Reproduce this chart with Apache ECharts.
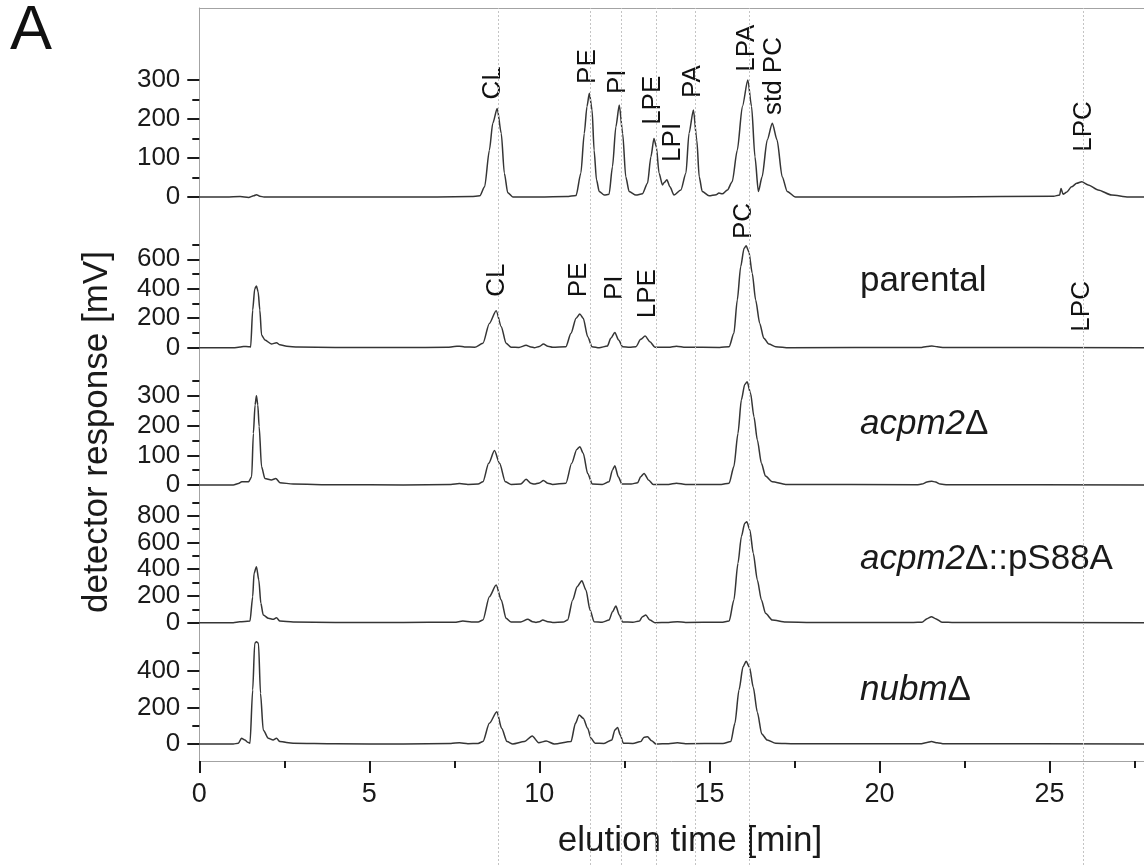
<!DOCTYPE html>
<html>
<head>
<meta charset="utf-8">
<script src="https://cdn.jsdelivr.net/npm/echarts@6/dist/echarts.min.js"></script>
<style>
  html, body { margin: 0; padding: 0; background: #fff; }
  #chart { width: 1144px; height: 865px; }
</style>
</head>
<body>
<div id="chart"></div>
<script>
// Chromatogram traces: [elution time (min), detector response (mV)]
const stdTrace = [
  [0,0],[0.8,0],[1.2,1],[1.45,-1],[1.6,3],[1.68,6],[1.78,2],[1.9,0],[3,0],[5,0],[7,0],[8.0,1],[8.25,3],
  [8.39,26],[8.53,120],[8.63,189],[8.76,227],[8.88,163],[8.97,61],[9.07,11],[9.22,0],[10,0],[10.8,1],
  [11.08,4],[11.22,61],[11.32,163],[11.40,232],[11.47,266],[11.55,223],[11.61,120],[11.68,44],[11.76,14],
  [11.91,5],[12.05,7],[12.15,78],[12.25,180],[12.35,236],[12.45,163],[12.54,52],[12.64,14],[12.84,5],
  [13.03,8],[13.18,35],[13.28,103],[13.37,150],[13.44,129],[13.52,61],[13.62,31],[13.67,37],[13.75,44],
  [13.84,26],[13.96,5],[14.16,18],[14.31,61],[14.40,163],[14.53,223],[14.63,146],[14.70,52],[14.79,14],
  [14.99,3],[15.2,6],[15.28,10],[15.38,8],[15.53,18],[15.67,39],[15.82,120],[15.97,232],[16.13,300],
  [16.24,232],[16.34,103],[16.44,14],[16.55,52],[16.70,146],[16.85,189],[16.99,146],[17.14,52],[17.29,14],
  [17.53,0],[20,0],[22,0],[25.12,2],[25.30,5],[25.34,22],[25.40,7],[25.50,12],[25.65,26],[25.80,35],
  [25.95,39],[26.14,31],[26.43,18],[26.83,5],[27.32,0],[27.8,0]
];
const parentalTrace = [
  [0,0],[1.0,0],[1.2,4],[1.3,8],[1.45,7],[1.51,5],[1.57,256],[1.63,400],[1.68,419],[1.73,380],[1.78,256],
  [1.83,86],[1.93,52],[2.12,25],[2.27,34],[2.37,20],[2.57,10],[2.9,4],[4,2],[6,1],[7.3,3],[7.5,8],[7.65,10],
  [7.8,5],[8.1,3],[8.34,30],[8.53,165],[8.73,251],[8.88,143],[9.02,30],[9.17,3],[9.4,2],[9.61,16],[9.75,5],
  [9.85,0],[10.0,8],[10.12,25],[10.25,10],[10.39,3],[10.78,7],[10.93,98],[11.08,200],[11.19,229],[11.29,200],
  [11.42,75],[11.55,7],[11.76,0],[12.0,11],[12.10,64],[12.22,104],[12.33,52],[12.45,7],[12.65,3],[12.84,7],
  [12.98,57],[13.11,79],[13.25,41],[13.40,3],[13.8,3],[14.03,10],[14.3,3],[15.3,2],[15.58,7],[15.72,98],
  [15.82,324],[15.92,550],[16.02,675],[16.08,692],[16.16,652],[16.26,505],[16.36,324],[16.48,165],[16.60,64],
  [16.75,25],[16.95,7],[17.34,0],[21.2,1],[21.4,8],[21.54,12],[21.7,6],[21.9,1],[27.8,0]
];
const acpm2Trace = [
  [0,0],[1.0,0],[1.15,5],[1.25,11],[1.45,11],[1.54,28],[1.59,174],[1.64,270],[1.68,301],[1.72,270],[1.76,197],
  [1.83,62],[1.93,22],[2.12,17],[2.25,22],[2.37,8],[2.76,3],[4,1],[6,0],[7.4,2],[7.65,5],[7.9,2],[8.2,3],
  [8.34,11],[8.51,73],[8.68,116],[8.83,73],[9.0,11],[9.17,2],[9.45,3],[9.61,19],[9.75,6],[9.85,3],[10.0,7],
  [10.12,15],[10.25,6],[10.39,2],[10.78,6],[10.95,73],[11.10,120],[11.19,129],[11.29,107],[11.42,39],[11.56,3],
  [11.85,2],[12.05,11],[12.15,51],[12.22,65],[12.32,28],[12.43,3],[12.7,3],[12.89,8],[12.98,28],[13.08,39],
  [13.21,17],[13.35,2],[13.8,2],[14.03,6],[14.3,2],[15.35,2],[15.58,6],[15.72,62],[15.84,174],[15.94,287],
  [16.04,339],[16.11,348],[16.21,309],[16.31,230],[16.41,152],[16.53,73],[16.65,30],[16.85,11],[17.24,2],
  [21.1,1],[21.25,3],[21.4,10],[21.54,13],[21.65,10],[21.79,3],[22.0,1],[27.8,0]
];
const pS88ATrace = [
  [0,0],[1.0,0],[1.19,7],[1.49,12],[1.57,194],[1.61,369],[1.68,419],[1.75,319],[1.81,145],[1.88,58],[2.03,33],
  [2.17,25],[2.27,37],[2.37,12],[2.76,5],[4,2],[6,1],[7.5,4],[7.75,12],[8.0,5],[8.2,6],[8.34,20],[8.53,194],
  [8.73,282],[8.88,170],[9.02,33],[9.17,5],[9.45,5],[9.66,25],[9.8,8],[9.90,2],[10.0,8],[10.10,20],[10.25,8],
  [10.39,2],[10.7,5],[10.83,20],[10.98,170],[11.11,269],[11.25,314],[11.37,244],[11.49,95],[11.61,7],[11.85,4],
  [12.05,20],[12.15,82],[12.25,125],[12.35,57],[12.45,5],[12.75,4],[12.94,12],[13.03,45],[13.13,57],[13.25,20],
  [13.40,0],[13.8,2],[14.06,7],[14.3,2],[15.35,3],[15.58,12],[15.72,170],[15.84,444],[15.94,643],[16.04,743],
  [16.10,755],[16.19,693],[16.29,519],[16.41,319],[16.53,170],[16.65,70],[16.85,20],[17.24,5],[18,2],[21.0,2],
  [21.25,4],[21.4,30],[21.53,45],[21.65,30],[21.84,4],[22.2,1],[27.8,0]
];
const nubmTrace = [
  [0,0],[1.0,0],[1.15,4],[1.24,31],[1.34,22],[1.42,10],[1.49,4],[1.57,296],[1.63,552],[1.68,560],[1.74,552],
  [1.80,278],[1.88,77],[2.03,31],[2.17,22],[2.27,31],[2.37,13],[2.76,4],[4,1],[6,0],[7.4,3],[7.65,7],[7.9,2],
  [8.2,3],[8.34,13],[8.53,113],[8.75,177],[8.89,86],[9.05,13],[9.22,0],[9.56,13],[9.79,44],[9.98,7],[10.20,16],
  [10.44,0],[10.93,13],[11.06,113],[11.17,159],[11.29,141],[11.42,86],[11.52,31],[11.64,4],[11.9,3],[12.13,22],
  [12.22,77],[12.30,91],[12.38,49],[12.47,4],[12.75,3],[12.98,13],[13.08,37],[13.18,40],[13.30,18],[13.43,0],
  [13.8,2],[14.06,7],[14.3,2],[15.4,3],[15.63,13],[15.75,113],[15.87,296],[15.99,424],[16.08,453],[16.18,420],
  [16.29,311],[16.41,174],[16.54,55],[16.70,22],[16.95,4],[17.5,1],[21.2,1],[21.4,8],[21.53,13],[21.7,7],
  [21.9,1],[27.8,0]
];

// Retention times of the reference peaks (dotted guide lines)
const markerTimes = [8.79, 11.49, 12.40, 13.43, 14.58, 16.18, 25.99];

// Peak annotations: [name, time, response at the foot of the label]
const stdPeaks = [
  ['CL', 8.64, 250], ['PE', 11.42, 290], ['PI', 12.30, 264], ['LPE', 13.35, 185], ['LPI', 13.93, 90],
  ['PA', 14.50, 254], ['LPA', 16.11, 321], ['std PC', 16.90, 210], ['LPC', 26.0, 116]
];
const parentalPeaks = [
  ['CL', 8.75, 346], ['PE', 11.17, 342], ['PI', 12.23, 324], ['LPE', 13.18, 200], ['PC', 16.02, 738],
  ['LPC', 25.95, 109]
];

// Axis ticks
const timeTicks = [0, 5, 10, 15, 20, 25];
const timeMinorTicks = [2.5, 7.5, 12.5, 17.5, 22.5, 27.5];
const panelTicks = [[0,100,200,300], [0,200,400,600], [0,100,200,300], [0,200,400,600,800], [0,200,400]];
const panelMinorTicks = [[50,150,250], [100,300,500,700], [50,150,250,350], [100,300,500,700,900], [100,300,500]];

// Strain labels (gene names in italics)
const sampleLabels = ['parental', '{i|acpm2}Δ', '{i|acpm2}Δ::pS88A', '{i|nubm}Δ'];

const traces = [stdTrace, parentalTrace, acpm2Trace, pS88ATrace, nubmTrace];

// Panel layout in pixels and response ranges
const FONT = "'Liberation Sans', Arial, Helvetica, sans-serif";
const LEFT = 199.3;
const T_MAX = 27.78;
const panels = [
  { top: 8,   height: 220, min: -79.5,  max: 484.6 },
  { top: 228, height: 136, min: -110.7, max: 812.6 },
  { top: 364, height: 133, min: -40.4,  max: 407.8 },
  { top: 497, height: 141, min: -114.3, max: 939.5 },
  { top: 638, height: 123, min: -93.2,  max: 580.8 }
];
const AXIS_GREY = '#a3a3a3';
const INK = '#1a1a1a';
const TRACE = '#353535';

const grid = panels.map(p => ({ left: LEFT, right: 0, top: p.top, height: p.height }));
grid.push({ left: LEFT, right: 0, top: 8, bottom: 0 }); // guide-line layer

const xAxis = [];
panels.forEach((p, i) => {
  const isTop = i === 0, isBottom = i === panels.length - 1;
  xAxis.push({
    type: 'value', gridIndex: i, min: 0, max: T_MAX,
    position: isTop ? 'top' : 'bottom',
    show: isTop || isBottom,
    splitLine: { show: false },
    axisLine: { show: true, onZero: false, lineStyle: { color: AXIS_GREY, width: 1 } },
    axisTick: isBottom
      ? { show: true, inside: false, length: 12, customValues: timeTicks, lineStyle: { color: INK, width: 2 } }
      : { show: false },
    axisLabel: isBottom
      ? { show: true, customValues: timeTicks, margin: 20, fontSize: 27, fontFamily: FONT, color: INK }
      : { show: false }
  });
});
// minor time ticks
xAxis.push({
  type: 'value', gridIndex: 4, min: 0, max: T_MAX, position: 'bottom',
  splitLine: { show: false }, axisLine: { show: false, onZero: false }, axisLabel: { show: false },
  axisTick: { show: true, inside: false, length: 7, customValues: timeMinorTicks, lineStyle: { color: INK, width: 2 } }
});
xAxis.push({ type: 'value', gridIndex: 5, min: 0, max: T_MAX, show: false });

const yAxis = [];
panels.forEach((p, i) => {
  yAxis.push({
    type: 'value', gridIndex: i, min: p.min, max: p.max, position: 'left',
    splitLine: { show: false },
    axisLine: { show: true, onZero: false, lineStyle: { color: AXIS_GREY, width: 1 } },
    axisTick: { show: true, inside: false, length: 12, customValues: panelTicks[i], lineStyle: { color: INK, width: 2 } },
    axisLabel: { show: true, customValues: panelTicks[i], margin: 19, fontSize: 26, fontFamily: FONT, color: INK }
  });
});
panels.forEach((p, i) => {
  yAxis.push({
    type: 'value', gridIndex: i, min: p.min, max: p.max, position: 'left',
    splitLine: { show: false }, axisLine: { show: false, onZero: false }, axisLabel: { show: false },
    axisTick: { show: true, inside: false, length: 7, customValues: panelMinorTicks[i], lineStyle: { color: INK, width: 2 } }
  });
});
yAxis.push({ type: 'value', gridIndex: 5, min: 0, max: 1, show: false });

const series = [];
// dotted guide lines through all panels
series.push({
  type: 'line', xAxisIndex: 6, yAxisIndex: 10, data: [[0, 0]], symbol: 'none', silent: true, z: 1,
  lineStyle: { opacity: 0 },
  markLine: {
    silent: true, symbol: ['none', 'none'], label: { show: false }, animation: false,
    lineStyle: { color: '#c4c4c4', type: [2, 2], width: 1 },
    data: markerTimes.map(t => ({ xAxis: t }))
  }
});
traces.forEach((tr, i) => {
  series.push({
    type: 'line', xAxisIndex: i, yAxisIndex: i, data: tr, symbol: 'none', smooth: 0.25,
    smoothMonotone: 'x', z: 3,
    lineStyle: { color: TRACE, width: 1.5 }
  });
});
const peakLabelSeries = (peaks, idx) => ({
  type: 'scatter', xAxisIndex: idx, yAxisIndex: idx, symbolSize: 0, silent: true, z: 4,
  itemStyle: { opacity: 1 },
  data: peaks.map(p => ({ name: p[0], value: [p[1], p[2]] })),
  label: {
    show: true, formatter: '{b}', position: 'inside', rotate: 90, align: 'left', verticalAlign: 'middle',
    fontSize: 26, fontFamily: FONT, color: '#111', opacity: 1
  }
});
series.push(peakLabelSeries(stdPeaks, 0));
series.push(peakLabelSeries(parentalPeaks, 1));

const rich = {
  i: { fontStyle: 'italic', fontSize: 35, fontFamily: FONT, fill: INK }
};
const sampleY = [281, 424.5, 559.5, 690];
const graphic = [
  { type: 'text', x: 10, y: 32, style: { text: 'A', fontSize: 63, fontFamily: FONT, fill: '#111', align: 'left', verticalAlign: 'middle' } },
  { type: 'text', x: 97, y: 432, rotation: Math.PI / 2,
    style: { text: 'detector response [mV]', fontSize: 35, fontFamily: FONT, fill: INK, align: 'center', verticalAlign: 'middle' } },
  { type: 'text', x: 690, y: 841,
    style: { text: 'elution time [min]', fontSize: 35, fontFamily: FONT, fill: INK, align: 'center', verticalAlign: 'middle' } }
];
sampleLabels.forEach((s, i) => {
  graphic.push({ type: 'text', x: 860, y: sampleY[i],
    style: { text: s, rich, fontSize: 35, fontFamily: FONT, fill: INK, align: 'left', verticalAlign: 'middle' } });
});

const chart = echarts.init(document.getElementById('chart'), null, { renderer: 'canvas' });
chart.setOption({
  animation: false,
  backgroundColor: '#fff',
  grid, xAxis, yAxis, series, graphic
});
</script>
</body>
</html>
